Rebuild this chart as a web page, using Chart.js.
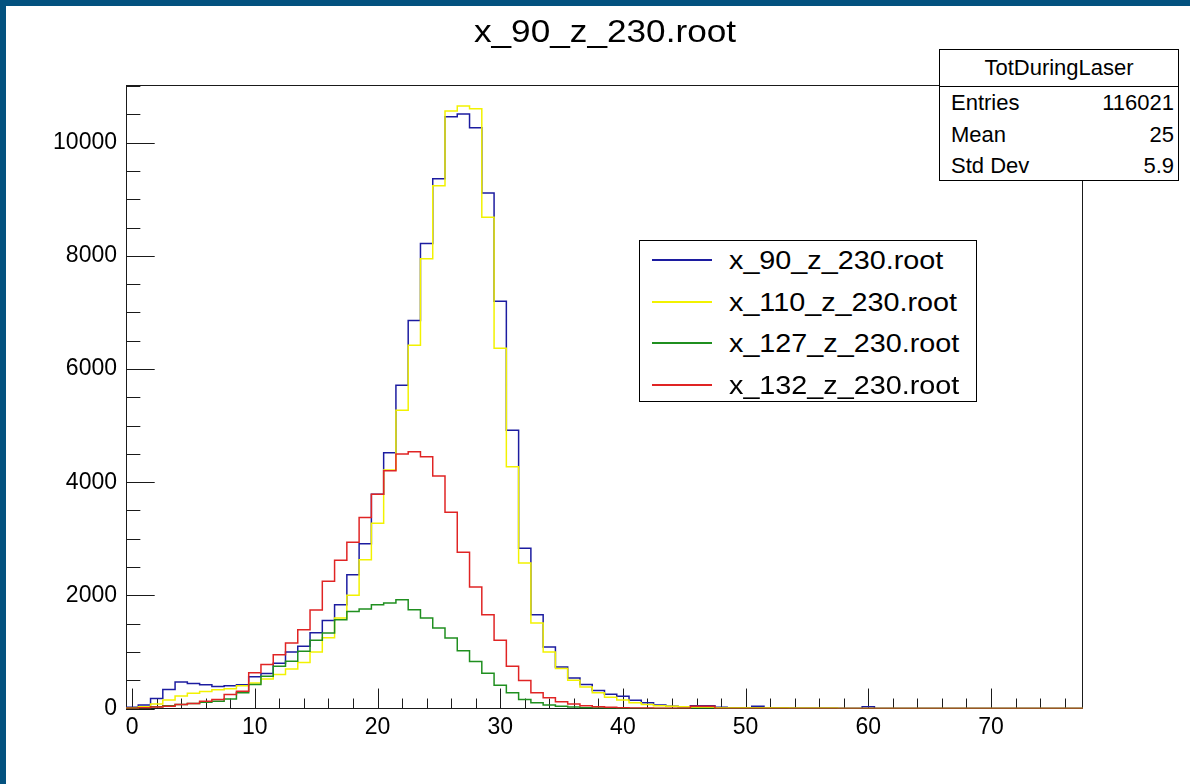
<!DOCTYPE html>
<html><head><meta charset="utf-8">
<script src="https://cdn.jsdelivr.net/npm/chart.js@4.4.1/dist/chart.umd.min.js"></script>
<style>
html,body{margin:0;padding:0;background:#fff;}
#wrap{position:relative;width:1190px;height:784px;overflow:hidden;background:#fff;font-family:"Liberation Sans",Arial,Helvetica,sans-serif;color:#000;}
#c{position:absolute;left:0;top:0;}
.band{position:absolute;background:#03527f;}
#title{position:absolute;left:405px;width:400px;top:11px;text-align:center;font-size:32px;line-height:40px;transform:scaleX(1.1);}
#stats{position:absolute;left:939px;top:49px;width:240px;height:132px;background:#fff;border:1px solid #000;box-sizing:border-box;font-size:22px;}
#stats .hd{height:36px;line-height:36px;text-align:center;border-bottom:1px solid #000;}
#stats .row{height:31.5px;line-height:31.5px;padding:0 4px 0 11px;display:flex;justify-content:space-between;}
#legend{position:absolute;left:639px;top:240px;width:338px;height:162px;background:#fff;border:1px solid #000;box-sizing:border-box;font-size:25px;}
#legend .it{position:absolute;left:0;height:40px;line-height:40px;white-space:nowrap;}
#legend .ln{position:absolute;left:12px;width:60px;top:19px;height:0;border-top:2px solid;}
#legend .tx{position:absolute;left:89px;top:0;transform:scaleX(1.15);transform-origin:0 50%;}
</style></head><body>
<div id="wrap">
<canvas id="c" width="1190" height="784"></canvas>
<div class="band" style="left:0;top:0;width:1190px;height:6px"></div>
<div class="band" style="left:0;top:0;width:6px;height:784px"></div>
<div id="title"></div>
<div id="stats"></div>
<div id="legend"></div>
</div>
<script>
// ---- data ----
const chartTitle = "x_90_z_230.root";
const seriesLabels = ["x_90_z_230.root","x_110_z_230.root","x_127_z_230.root","x_132_z_230.root"];
const seriesColors = ["#1c1ca0","#f2f200","#1f8f1f","#e02424"];
const binCenters = Array.from({length:78},(_,i)=>i); // bins of width 1 from -0.5 to 77.5
const x90 = [20,60,176,335,470,441,420,390,400,420,560,620,800,1000,1099,1340,1557,1834,2363,2910,3786,4520,5714,6860,8220,9365,10460,10510,10265,9113,7200,4920,2834,1658,1088,735,541,423,317,250,217,146,100,60,40,30,50,50,20,10,10,40,5,0,0,0,0,0,0,0,30,0,0,0,0,0,0,0,0,0,0,0,0,0,0,0,0,0];
const x110 = [10,30,80,150,220,270,300,330,350,400,450,520,600,700,811,1000,1250,1600,2000,2628,3275,4215,5273,6420,7950,9240,10560,10650,10600,8683,6367,4274,2570,1511,1000,705,500,380,280,200,150,100,70,50,40,30,20,20,15,15,15,15,12,12,10,10,10,10,0,0,0,0,0,0,0,0,0,0,0,0,0,0,0,0,0,0,0,0];
const x127 = [5,15,30,50,70,90,110,130,170,280,423,570,746,834,1011,1205,1335,1570,1716,1758,1834,1864,1922,1746,1600,1423,1247,1020,830,625,411,277,159,100,60,40,25,15,10,5,0,0,0,0,0,0,0,0,0,0,0,0,0,0,0,0,0,0,0,0,0,0,0,0,0,0,0,0,0,0,0,0,0,0,0,0,0,0];
const x132 = [5,15,25,40,70,88,129,159,247,306,630,776,952,1158,1393,1740,2250,2620,2940,3374,3786,4203,4497,4538,4450,4109,3469,2764,2146,1658,1205,746,494,277,190,120,80,50,30,20,15,10,8,5,5,5,40,40,0,0,0,0,0,0,0,0,0,0,0,0,0,0,0,0,0,0,0,0,0,0,0,0,0,0,0,0,0,0];
const seriesValues = [x90,x110,x127,x132];
const xRange = [-0.5, 77.5];
const yRange = [0, 11030];
const xMajorTicks = [0,10,20,30,40,50,60,70];
const xMinorStep = 2;
const yMajorTicks = [0,2000,4000,6000,8000,10000];
const yMinorStep = 500;
const statsTitle = "TotDuringLaser";
const statsLabels = ["Entries","Mean","Std Dev"];
const statsValues = ["116021","25","5.9"];

// ---- overlays ----
document.getElementById('title').textContent = chartTitle;
const st = document.getElementById('stats');
st.innerHTML = '<div class="hd"></div>';
st.querySelector('.hd').textContent = statsTitle;
statsLabels.forEach((l,i)=>{
  const r=document.createElement('div'); r.className='row';
  const a=document.createElement('span'); a.textContent=l;
  const b=document.createElement('span'); b.textContent=statsValues[i];
  r.appendChild(a); r.appendChild(b); st.appendChild(r);
});
const lg = document.getElementById('legend');
seriesLabels.forEach((l,i)=>{
  const it=document.createElement('div'); it.className='it'; it.style.top=(i*41.5-1)+'px';
  const ln=document.createElement('div'); ln.className='ln'; ln.style.borderTopColor=seriesColors[i];
  const tx=document.createElement('div'); tx.className='tx'; tx.textContent=l;
  it.appendChild(ln); it.appendChild(tx); lg.appendChild(it);
});

// ---- chart ----
function histPoints(vals){
  const pts = vals.map((v,i)=>({x: binCenters[i]-0.5, y: v}));
  pts.push({x: binCenters[binCenters.length-1]+0.5, y: vals[vals.length-1]});
  return pts;
}
const frameTicks = {
  id:'frameTicks',
  beforeDatasetsDraw(chart){
    const {ctx, chartArea:a, scales:{x,y}} = chart;
    ctx.save();
    ctx.strokeStyle='#1a1a1a'; ctx.lineWidth=1;
    ctx.strokeRect(Math.round(a.left)+0.5, Math.round(a.top)+0.5, Math.round(a.right-a.left)-1, Math.round(a.bottom-a.top)-1);
    ctx.beginPath();
    const xl = 0.032*(a.bottom-a.top);
    for(let v=0; v<=xRange[1]; v+=xMinorStep){
      const px = Math.round(x.getPixelForValue(v))+0.5;
      const len = xMajorTicks.includes(v) ? xl : xl/2;
      ctx.moveTo(px, a.bottom); ctx.lineTo(px, a.bottom-len);
    }
    const yl = 0.03*(a.right-a.left);
    for(let v=0; v<=yRange[1]; v+=yMinorStep){
      const py = Math.round(y.getPixelForValue(v))+0.5;
      const len = yMajorTicks.includes(v) ? yl : yl/2;
      ctx.moveTo(a.left, py); ctx.lineTo(a.left+len, py);
    }
    ctx.stroke();
    ctx.restore();
  }
};
new Chart(document.getElementById('c'), {
  type:'line',
  data:{
    datasets: seriesLabels.map((l,i)=>({
      label:l, data: histPoints(seriesValues[i]), borderColor: seriesColors[i],
      borderWidth:1.5, pointRadius:0, fill:false, stepped:true, tension:0,
      order: seriesLabels.length - i
    }))
  },
  options:{
    responsive:false, animation:false, devicePixelRatio:1,
    layout:{padding:{left:0,right:107,top:84.5,bottom:0}},
    plugins:{legend:{display:false}, title:{display:false}, tooltip:{enabled:false}},
    scales:{
      x:{type:'linear', min:xRange[0], max:xRange[1],
        grid:{display:false, drawTicks:false}, border:{display:false},
        afterBuildTicks:(s)=>{ s.ticks = xMajorTicks.map(v=>({value:v})); },
        afterFit:(s)=>{ s.height = 75.5; },
        ticks:{font:{family:'"Liberation Sans", Arial, sans-serif', size:23}, color:'#000', padding:5, maxRotation:0, autoSkip:false}
      },
      y:{type:'linear', min:yRange[0], max:yRange[1],
        grid:{display:false, drawTicks:false}, border:{display:false},
        afterBuildTicks:(s)=>{ s.ticks = yMajorTicks.map(v=>({value:v})); },
        afterFit:(s)=>{ s.width = 126; },
        ticks:{font:{family:'"Liberation Sans", Arial, sans-serif', size:23}, color:'#000', padding:9, callback:(v)=>String(v)}
      }
    }
  },
  plugins:[frameTicks]
});
</script>
</body></html>
